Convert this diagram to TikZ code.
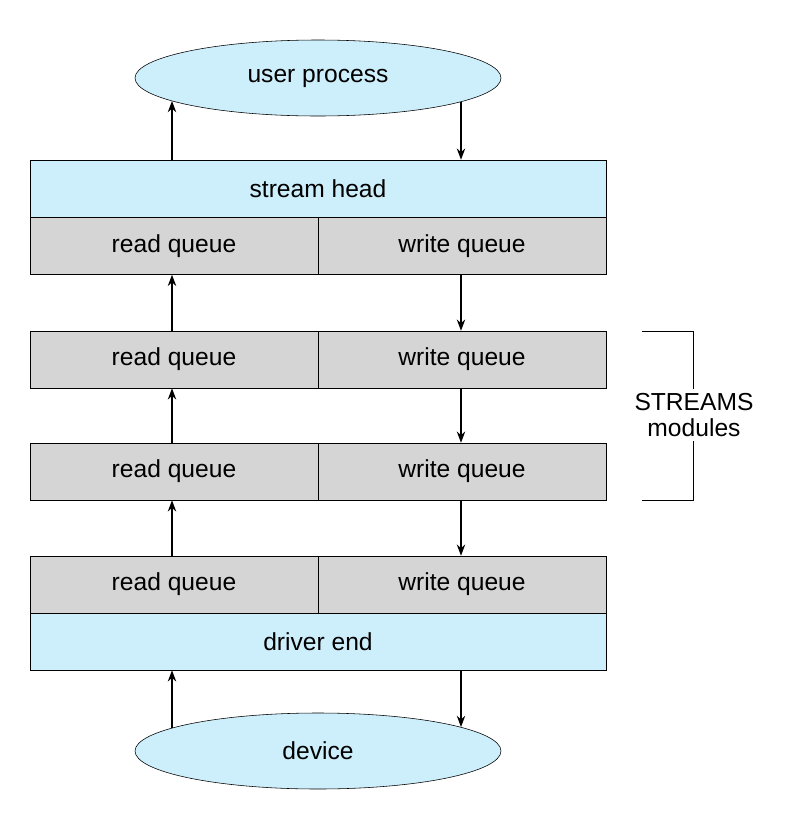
\documentclass[tikz,border=0pt]{standalone}
\usepackage{fontspec}
\setmainfont{Liberation Sans}
\usetikzlibrary{arrows.meta,shapes.geometric}
\definecolor{streamblue}{HTML}{CDEEFB}
\definecolor{queuegrey}{HTML}{D5D5D5}
\tikzset{
  box/.style={draw, thin, minimum height=57\unitpx, inner sep=0pt, font=\fontsize{17.5}{20}\selectfont},
  half/.style={box, fill=queuegrey, minimum width=288\unitpx},
  full/.style={box, fill=streamblue, minimum width=576\unitpx},
  proc/.style={ellipse, draw, thin, fill=streamblue, minimum width=366\unitpx, minimum height=76\unitpx, inner sep=0pt, font=\fontsize{17.5}{20}\selectfont},
  flow/.style={-{Stealth[length=8pt,width=6pt]}, thick}
}
\newlength\unitpx
\setlength\unitpx{0.025cm}
\begin{document}
\begin{tikzpicture}[x=0.025cm,y=-0.025cm]
  \useasboundingbox (0,0) rectangle (784,830);
  \node[proc] (user) at (318,78) {user process};
  \node[full] (head) at (318,188.5) {stream head};
  \node[half] (rq0) at (174,246) {read queue};
  \node[half] (wq0) at (462,246) {write queue};
  \node[half] (rq1) at (174,359.5) {read queue};
  \node[half] (wq1) at (462,359.5) {write queue};
  \node[half] (rq2) at (174,471.5) {read queue};
  \node[half] (wq2) at (462,471.5) {write queue};
  \node[half] (rq3) at (174,584.5) {read queue};
  \node[half] (wq3) at (462,584.5) {write queue};
  \node[full] (drv) at (318,641.5) {driver end};
  \node[proc] (dev) at (318,751) {device};
  \node[font=\fontsize{17.5}{20}\selectfont, align=center] (mods) at (694,415) {STREAMS\\[-2pt]modules};
  % end points on the ellipses
  \coordinate (userL) at (172,101);
  \coordinate (userR) at (461,102);
  \coordinate (devL) at (172,728);
  \coordinate (devR) at (461,727);
  % read side, going up
  \draw[flow] (userL |- head.north) -- (userL);
  \draw[flow] (userL |- rq1.north) -- (userL |- rq0.south);
  \draw[flow] (userL |- rq2.north) -- (userL |- rq1.south);
  \draw[flow] (userL |- rq3.north) -- (userL |- rq2.south);
  \draw[flow] (devL) -- (devL |- drv.south);
  % write side, going down
  \draw[flow] (userR) -- (userR |- head.north);
  \draw[flow] (userR |- wq0.south) -- (userR |- wq1.north);
  \draw[flow] (userR |- wq1.south) -- (userR |- wq2.north);
  \draw[flow] (userR |- wq2.south) -- (userR |- wq3.north);
  \draw[flow] (devR |- drv.south) -- (devR);
  % bracket
  \draw[thin] (642,331) -- (693,331) -- (mods.north -| 693,0);
  \draw[thin] (mods.south -| 693,0) -- (693,500) -- (642,500);
\end{tikzpicture}
\end{document}
